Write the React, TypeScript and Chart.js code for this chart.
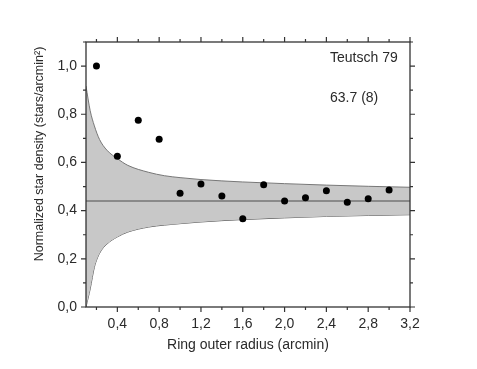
import React, { useEffect, useRef } from "react";
import { Chart, registerables } from "chart.js";

Chart.register(...registerables);

const radiusX = [0.2, 0.4, 0.6, 0.8, 1.0, 1.2, 1.4, 1.6, 1.8, 2.0, 2.2, 2.4, 2.6, 2.8, 3.0];
const densityY = [1.0, 0.626, 0.775, 0.696, 0.472, 0.511, 0.461, 0.366, 0.507, 0.44, 0.453, 0.483, 0.435, 0.449, 0.486];

const meanLevel = 0.44;
const meanX = [0.1, 3.2];

const bandX = [0.1, 0.14, 0.18, 0.23, 0.3, 0.4, 0.5, 0.7, 0.85, 1.0, 1.2, 1.6, 2.0, 2.4, 2.8, 3.2];
const bandUpper = [0.917, 0.815, 0.752, 0.695, 0.651, 0.616, 0.588, 0.559, 0.545, 0.537, 0.529, 0.519, 0.512, 0.506, 0.501, 0.497];
const bandLower = [0.0, 0.075, 0.165, 0.223, 0.261, 0.291, 0.311, 0.332, 0.34, 0.346, 0.353, 0.363, 0.37, 0.376, 0.38, 0.383];

const xTickLabels = [0.4, 0.8, 1.2, 1.6, 2.0, 2.4, 2.8, 3.2];
const yTickLabels = [0.0, 0.2, 0.4, 0.6, 0.8, 1.0];
const xMinorTicks = [0.2, 0.4, 0.6, 0.8, 1.0, 1.2, 1.4, 1.6, 1.8, 2.0, 2.2, 2.4, 2.6, 2.8, 3.0, 3.2];
const yMinorTicks = [0.0, 0.1, 0.2, 0.3, 0.4, 0.5, 0.6, 0.7, 0.8, 0.9, 1.0, 1.1];

const clusterName = "Teutsch 79";
const clusterValue = "63.7 (8)";
const xTitle = "Ring outer radius (arcmin)";
const yTitle = "Normalized star density (stars/arcmin²)";

const FONT = '"Liberation Sans", Arial, sans-serif';
const TEXT = "#2a2a2a";

const isMajor = (v: number, step: number) => Math.abs(v / step - Math.round(v / step)) < 1e-6;

const framePlugin = {
  id: "frame",
  afterDraw(chart: any) {
    const { ctx, chartArea } = chart;
    const { left, right, top, bottom } = chartArea;
    const xs = chart.scales.x;
    const ys = chart.scales.y;
    ctx.save();
    ctx.strokeStyle = "#333";
    ctx.lineWidth = 1.3;
    ctx.strokeRect(left, top, right - left, bottom - top);
    ctx.lineWidth = 1.2;
    ctx.beginPath();
    for (const v of xMinorTicks) {
      const px = xs.getPixelForValue(v);
      const len = isMajor(v, 0.4) ? 5 : 3;
      ctx.moveTo(px, bottom);
      ctx.lineTo(px, bottom + len);
      ctx.moveTo(px, top);
      ctx.lineTo(px, top - len);
    }
    for (const v of yMinorTicks) {
      const py = ys.getPixelForValue(v);
      const len = isMajor(v, 0.2) ? 5 : 3;
      ctx.moveTo(left, py);
      ctx.lineTo(left - len, py);
      ctx.moveTo(right, py);
      ctx.lineTo(right + len, py);
    }
    ctx.stroke();

    ctx.fillStyle = TEXT;
    ctx.font = `14px ${FONT}`;
    ctx.textAlign = "center";
    ctx.textBaseline = "middle";
    ctx.fillText(xTitle, (left + right) / 2, 345);

    ctx.save();
    ctx.translate(40, 154);
    ctx.rotate(-Math.PI / 2);
    ctx.font = `12.5px ${FONT}`;
    ctx.fillText(yTitle, 0, 0);
    ctx.restore();

    ctx.textAlign = "left";
    ctx.font = `14px ${FONT}`;
    ctx.fillText(clusterName, 330, 58);
    ctx.fillText(clusterValue, 330, 98);
    ctx.restore();
  },
};

const fmt = (v: number) => v.toFixed(1).replace(".", ",");

export default function App() {
  const ref = useRef<HTMLCanvasElement>(null);
  useEffect(() => {
    if (!ref.current) return;
    const chart = new Chart(ref.current, {
      type: "scatter",
      data: {
        datasets: [
          {
            label: "density",
            data: radiusX.map((x, i) => ({ x, y: densityY[i] })),
            pointRadius: 3.5,
            pointBackgroundColor: "#000",
            pointBorderColor: "#000",
            pointBorderWidth: 0,
            showLine: false,
            order: 0,
          },
          {
            label: "mean",
            data: meanX.map((x) => ({ x, y: meanLevel })),
            showLine: true,
            pointRadius: 0,
            borderColor: "#8a8a8a",
            borderWidth: 2,
            order: 1,
          },
          {
            label: "lower",
            data: bandX.map((x, i) => ({ x, y: bandLower[i] })),
            showLine: true,
            pointRadius: 0,
            borderColor: "#555",
            borderWidth: 1,
            cubicInterpolationMode: "monotone",
            fill: false,
            order: 3,
          },
          {
            label: "upper",
            data: bandX.map((x, i) => ({ x, y: bandUpper[i] })),
            showLine: true,
            pointRadius: 0,
            borderColor: "#777",
            borderWidth: 1,
            cubicInterpolationMode: "monotone",
            fill: { target: 2 },
            backgroundColor: "#c8c8c8",
            order: 2,
          },
        ],
      } as any,
      options: {
        responsive: false,
        animation: false,
        layout: { padding: { left: 0, right: 67, top: 42, bottom: 0 } },
        plugins: {
          legend: { display: false },
          tooltip: { enabled: false },
        },
        scales: {
          x: {
            type: "linear",
            min: 0.1,
            max: 3.2,
            grid: { display: false, drawTicks: false },
            border: { display: false },
            afterBuildTicks: (axis: any) => {
              axis.ticks = xTickLabels.map((v) => ({ value: v }));
            },
            afterFit: (s: any) => {
              s.height = 369 - 307;
            },
            ticks: {
              autoSkip: false,
              maxRotation: 0,
              padding: 9,
              color: TEXT,
              font: { family: FONT, size: 14 },
              callback: (v: any) => fmt(Number(v)),
            },
          },
          y: {
            type: "linear",
            min: 0,
            max: 1.1,
            grid: { display: false, drawTicks: false },
            border: { display: false },
            afterBuildTicks: (axis: any) => {
              axis.ticks = yTickLabels.map((v) => ({ value: v }));
            },
            afterFit: (s: any) => {
              s.width = 86;
            },
            ticks: {
              autoSkip: false,
              padding: 9,
              color: TEXT,
              font: { family: FONT, size: 14 },
              callback: (v: any) => fmt(Number(v)),
            },
          },
        },
      },
      plugins: [framePlugin],
    });
    return () => chart.destroy();
  }, []);
  return (
    <div style={{ position: "fixed", left: 0, top: 0, width: 477, height: 369, background: "#fff" }}>
      <canvas ref={ref} width={477} height={369} style={{ width: 477, height: 369 }} />
    </div>
  );
}
